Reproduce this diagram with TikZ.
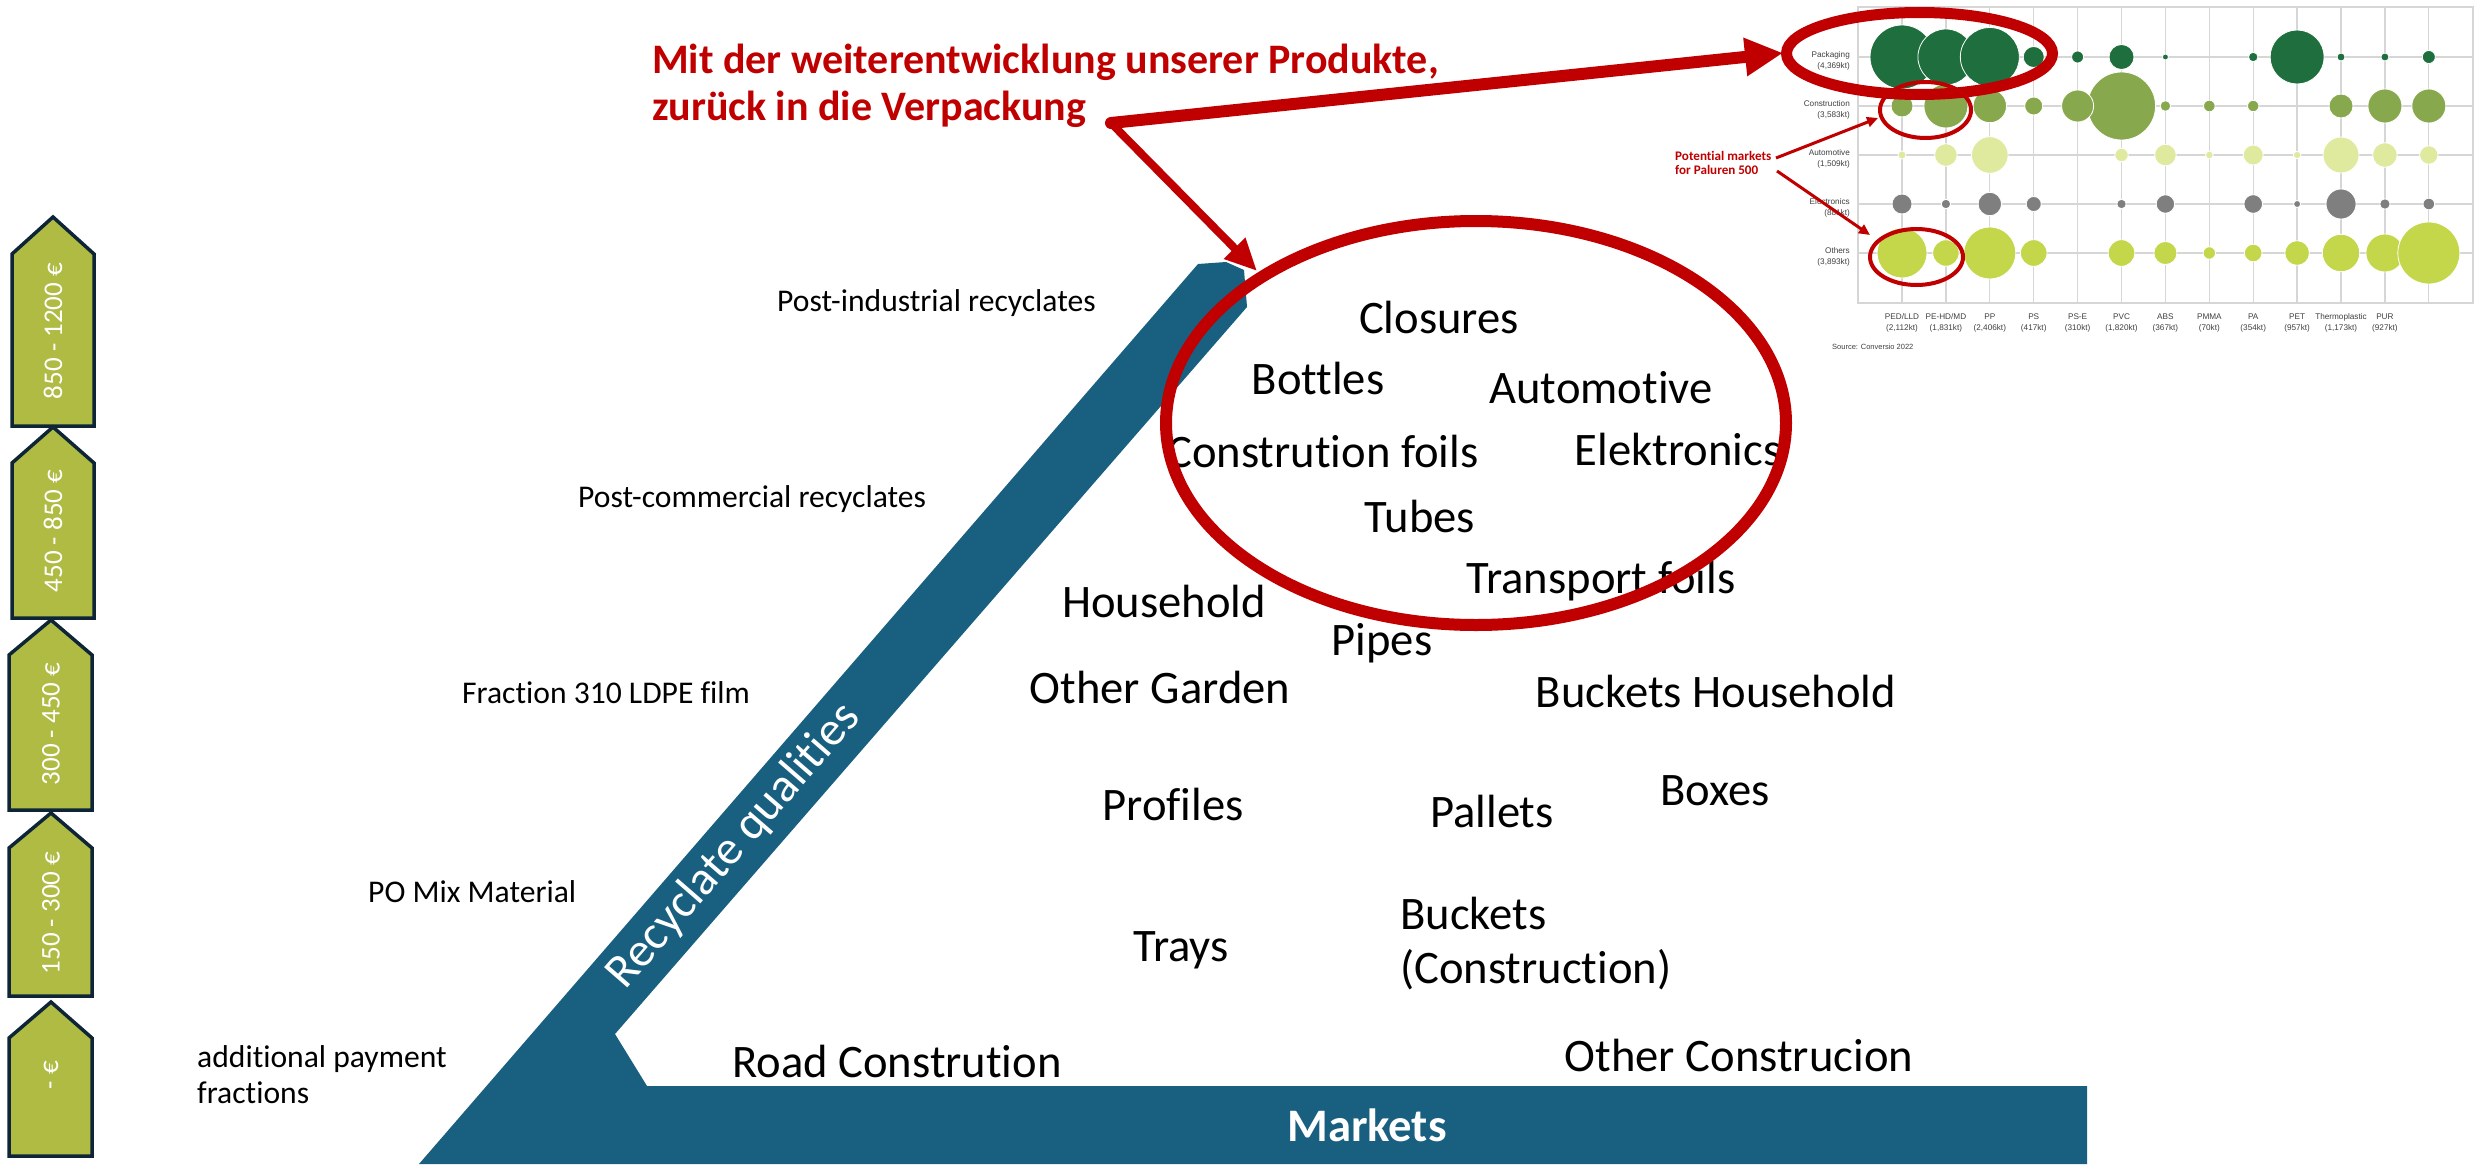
\documentclass[tikz,border=0pt]{standalone}
\usepackage{fontspec}
\setmainfont{Carlito}[Ligatures={TeX,NoCommon}]
\newfontfamily\chartfont{Liberation Sans}
\usetikzlibrary{arrows.meta}
\definecolor{rblue}{HTML}{185F80}
\definecolor{rred}{HTML}{C00000}
\definecolor{priceolive}{HTML}{AFBB43}
\definecolor{navy}{HTML}{0E2537}
\definecolor{cpack}{HTML}{1F6E3D}
\definecolor{ccons}{HTML}{88A84E}
\definecolor{cauto}{HTML}{E0EA9F}
\definecolor{celec}{HTML}{7F7F7F}
\definecolor{coth}{HTML}{C4D64A}
\definecolor{gridgray}{HTML}{D6D6D6}
\definecolor{labgray}{HTML}{404040}
\begin{document}
\begin{tikzpicture}[x=1pt,y=-1pt,
  big/.style={font=\fontsize{46.6}{56}\selectfont, inner sep=0pt, anchor=base},
  lab/.style={font=\fontsize{31.6}{38}\selectfont, inner sep=0pt, anchor=base west},
  pricebox/.style={fill=priceolive, draw=navy, line width=3.5pt, line join=miter},
  pricetxt/.style={text=white, font=\fontsize{27}{32}\selectfont, rotate=90, inner sep=0pt},
  rowlab/.style={font=\chartfont\fontsize{8.2}{9.8}\selectfont, text=labgray, inner sep=0pt, anchor=base east},
  collab/.style={font=\chartfont\fontsize{8.2}{9.8}\selectfont, text=labgray, inner sep=0pt, anchor=base},
  gridline/.style={draw=gridgray, line width=1.3pt},
  bubble/.style={draw=white, line width=0.8pt}
]
\useasboundingbox (0,0) rectangle (2483,1164);
\fill[white] (0,0) rectangle (2483,1164);

% ---------- price arrows ----------
\foreach \t/\s/\b/\c/\lab/\xl/\xr/\xt [count=\i] in {
  217/254/426/331/{850 - 1200 €}/12/94/53,
  427/463/618/531/{450 - 850 €}/12/94/53,
  620/655/810/724/{300 - 450 €}/9/92/51,
  813/848/996/913/{150 - 300 €}/9/92/51,
  1002/1038/1156/1075/{- €}/9/92/51}{
  \draw[pricebox] (\xl,\b) -- (\xl,\s) -- (\xt,\t) -- (\xr,\s) -- (\xr,\b) -- cycle;
  \node[pricetxt] (price\i) at (\xt,\c) {\lab};
}

% ---------- blue shape ----------
\fill[rblue] (419,1164) -- (1198,264) -- (1226,262) -- (1244,270) -- (1247,307)
  -- (615,1034) -- (647,1086) -- (2087,1086) -- (2087,1164) -- cycle;
\node[text=white, font=\fontsize{48}{56}\selectfont, rotate=49, inner sep=0pt] (rq) at (734,846) {Recyclate qualities};
\node[text=white, font=\bfseries\fontsize{46.6}{56}\selectfont, inner sep=0pt] (markets) at (1367,1125) {Markets};

% ---------- left labels ----------
\node[lab] (pir) at (777,311) {Post-industrial recyclates};
\node[lab] (pcr) at (578,507) {Post-commercial recyclates};
\node[lab] (f310) at (462,703) {Fraction 310 LDPE film};
\node[lab] (pomix) at (368,902) {PO Mix Material};
\node[lab] (addpay1) at (197,1067) {additional payment};
\node[lab] (addpay2) at (197,1103) {fractions};

% ---------- market items ----------
\node[big] (closures) at (1439,333) {Closures};
\node[big] (bottles) at (1318,394) {Bottles};
\node[big] (automotive) at (1601,403) {Automotive};
\node[big] (cfoils) at (1323,467) {Constrution foils};
\node[big] (elek) at (1678,465) {Elektronics};
\node[big] (tubes) at (1420,532) {Tubes};
\node[big] (tfoils) at (1601,593) {Transport foils};
\node[big] (household) at (1164,617) {Household};
\node[big] (pipes) at (1382,655) {Pipes};
\node[big] (garden) at (1160,703) {Other Garden};
\node[big] (bhouse) at (1716,707) {Buckets Household};
\node[big] (profiles) at (1173,820) {Profiles};
\node[big] (pallets) at (1492,827) {Pallets};
\node[big] (boxes) at (1715,805) {Boxes};
\node[big] (trays) at (1181,961) {Trays};
\node[big, anchor=base west] (bconstA) at (1400,929) {Buckets};
\node[big, anchor=base west] (bconstB) at (1400,983) {(Construction)};
\node[big] (road) at (897,1077) {Road Constrution};
\node[big] (oconst) at (1739,1071) {Other Construcion};

% ---------- chart ----------
\foreach \c in {1,...,13}{
  \draw[gridline] ({1902+43.9*(\c-1)},7) -- ({1902+43.9*(\c-1)},303);
}
\foreach \r in {57,106,155,204,253}{
  \draw[gridline] (1858,\r) -- (2473,\r);
}
\draw[gridline] (1858,7) rectangle (2473,303);

\foreach \c/\r in {1/32,2/28,3/29.5,4/10.5,5/6,6/12.5,7/3,9/4.7,10/27,11/4,12/4,13/6.5}
  \fill[cpack, bubble] ({1902+43.9*(\c-1)},57) circle[radius=\r];
\foreach \c/\r in {1/11,2/22,3/16.7,4/9,6/34,5/16,7/5.3,8/5.8,9/5.7,11/12,12/17,13/17}
  \fill[ccons, bubble] ({1902+43.9*(\c-1)},106) circle[radius=\r];
\foreach \c/\r in {1/4,2/11.3,3/18.3,6/6.7,7/10.8,8/3.8,9/10,10/3.7,11/18,12/12.3,13/9.2}
  \fill[cauto, bubble] ({1902+43.9*(\c-1)},155) circle[radius=\r];
\foreach \c/\r in {1/10,2/4.7,3/11.7,4/7.5,6/4.7,7/9.2,9/9.3,10/3.5,11/15,12/5.2,13/5.8}
  \fill[celec, bubble] ({1902+43.9*(\c-1)},204) circle[radius=\r];
\foreach \c/\r in {1/25,2/13.2,3/26,4/13.3,6/13.3,7/11.5,8/6.2,9/8.8,10/12.3,11/18.7,12/19,13/31}
  \fill[coth, bubble] ({1902+43.9*(\c-1)},253) circle[radius=\r];

\foreach \y/\n/\a [count=\i] in {57/Packaging/{(4,369kt)},106/Construction/{(3,583kt)},155/Automotive/{(1,509kt)},204/Electronics/{(881kt)},253/Others/{(3,893kt)}}{
  \node[rowlab] (rowname\i) at (1850,\y) {\n};
  \node[rowlab] (rowamt\i) at (1850,\y+11) {\a};
}
\foreach \n/\a [count=\c] in {{PED/LLD}/{(2,112kt)},{PE-HD/MD}/{(1,831kt)},PP/{(2,406kt)},PS/{(417kt)},PS-E/{(310kt)},PVC/{(1,820kt)},ABS/{(367kt)},PMMA/{(70kt)},PA/{(354kt)},PET/{(957kt)},Thermoplastic/{(1,173kt)},PUR/{(927kt)}}{
  \node[collab] (colname\c) at ({1902+43.9*(\c-1)},319) {\n};
  \node[collab] (colamt\c) at ({1902+43.9*(\c-1)},330) {\a};
}
\node[font=\chartfont\fontsize{7.5}{9}\selectfont, text=labgray, anchor=base west, inner sep=0pt] (src) at (1832,349) {Source: Conversio 2022};

% ---------- red annotations ----------
\draw[rred, line width=11pt] (1919.5,53.5) ellipse[x radius=133, y radius=41];
\draw[rred, line width=4pt] (1925.5,110) ellipse[x radius=45.5, y radius=28];
\draw[rred, line width=4pt] (1916.5,257) ellipse[x radius=46.5, y radius=28];
\node[font=\bfseries\fontsize{13.1}{14}\selectfont, text=rred, align=left, inner sep=0pt, anchor=west] (potential) at (1675,163) {Potential markets\\for Paluren 500};
\coordinate (pA) at (1776,158);
\coordinate (pB) at (1777,171);
\coordinate (consE) at (1878,118);
\coordinate (othE) at (1870,235);
\draw[rred, line width=3pt, -{Triangle[length=11pt,width=10pt]}] (pA) -- (consE);
\draw[rred, line width=3pt, -{Triangle[length=11pt,width=10pt]}] (pB) -- (othE);

\draw[rred, line width=12pt] (1476,423) ellipse[x radius=310, y radius=202];

\node[font=\bfseries\fontsize{42}{47}\selectfont, text=rred, align=left, inner sep=0pt, anchor=base west] (headA) at (652,74) {Mit der weiterentwicklung unserer Produkte,};
\node[font=\bfseries\fontsize{42}{47}\selectfont, text=rred, align=left, inner sep=0pt, anchor=base west] (headB) at (652,120) {zurück in die Verpackung};
\coordinate (hub) at (1111,123);
\coordinate (packtip) at (1783,53);
\coordinate (maintip) at (1257,271);
\draw[rred, line width=12pt, line cap=round, -{Triangle[length=38pt,width=36pt]}] (hub) -- (packtip);
\draw[rred, line width=8pt, line cap=round, -{Triangle[length=32pt,width=28pt]}] (hub) -- (maintip);
\end{tikzpicture}
\end{document}
